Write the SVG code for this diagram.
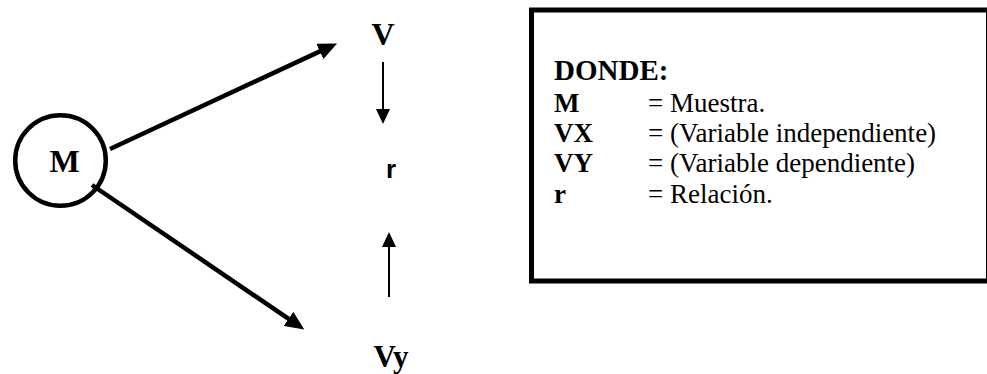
<svg xmlns="http://www.w3.org/2000/svg" width="987" height="374" viewBox="0 0 987 374">
<style>
.serif{font-family:"Liberation Serif","Times New Roman",serif;fill:#000}
.b{font-weight:bold}
.sans{font-family:"Liberation Sans",Arial,sans-serif;font-weight:bold;fill:#000}
.thick{stroke:#000;stroke-width:4.5;fill:none}
.thin{stroke:#000;stroke-width:2;fill:none}
</style>
<defs>
<marker id="headBig" viewBox="0 0 19 17" markerWidth="19" markerHeight="17" refX="9" refY="8.5" orient="auto" markerUnits="userSpaceOnUse">
<path d="M0,0 L19,8.5 L0,17 z" fill="#000"/>
</marker>
<marker id="headSmall" viewBox="0 0 15 14" markerWidth="15" markerHeight="14" refX="9" refY="7" orient="auto" markerUnits="userSpaceOnUse">
<path d="M0,0 L15,7 L0,14 z" fill="#000"/>
</marker>
</defs>
<g id="connectors">
<line class="thick" x1="110" y1="149" x2="328" y2="47.6" marker-end="url(#headBig)"/>
<line class="thick" x1="92" y1="185" x2="296" y2="323.9" marker-end="url(#headBig)"/>
<line class="thin" x1="383" y1="62" x2="383" y2="118" marker-end="url(#headSmall)"/>
<line class="thin" x1="389" y1="297" x2="389" y2="238" marker-end="url(#headSmall)"/>
</g>
<g id="node-M">
<circle cx="60.5" cy="160.5" r="45.3" fill="none" stroke="#000" stroke-width="4.5"/>
<text class="serif b" x="64.5" y="172" font-size="32" text-anchor="middle">M</text>
</g>
<g id="node-V">
<text class="serif b" x="383" y="45" font-size="32" text-anchor="middle">V</text>
</g>
<g id="node-r">
<text class="sans" x="391" y="178" font-size="26" text-anchor="middle">r</text>
</g>
<g id="node-Vy">
<text class="serif b" x="391" y="367" font-size="31" text-anchor="middle">Vy</text>
</g>
<g id="legend">
<rect x="531.5" y="10" width="457" height="271" fill="none" stroke="#000" stroke-width="5"/>
<text class="serif b" x="554" y="80" font-size="29">DONDE:</text>
<text class="serif b" x="554" y="112" font-size="27">M</text>
<text class="serif" x="648" y="112" font-size="27">= Muestra.</text>
<text class="serif b" x="554" y="142" font-size="27">VX</text>
<text class="serif" x="648" y="142" font-size="27">= (Variable independiente)</text>
<text class="serif b" x="554" y="172" font-size="27">VY</text>
<text class="serif" x="648" y="172" font-size="27">= (Variable dependiente)</text>
<text class="serif b" x="554" y="203" font-size="27">r</text>
<text class="serif" x="648" y="203" font-size="27">= Relación.</text>
</g>
</svg>
